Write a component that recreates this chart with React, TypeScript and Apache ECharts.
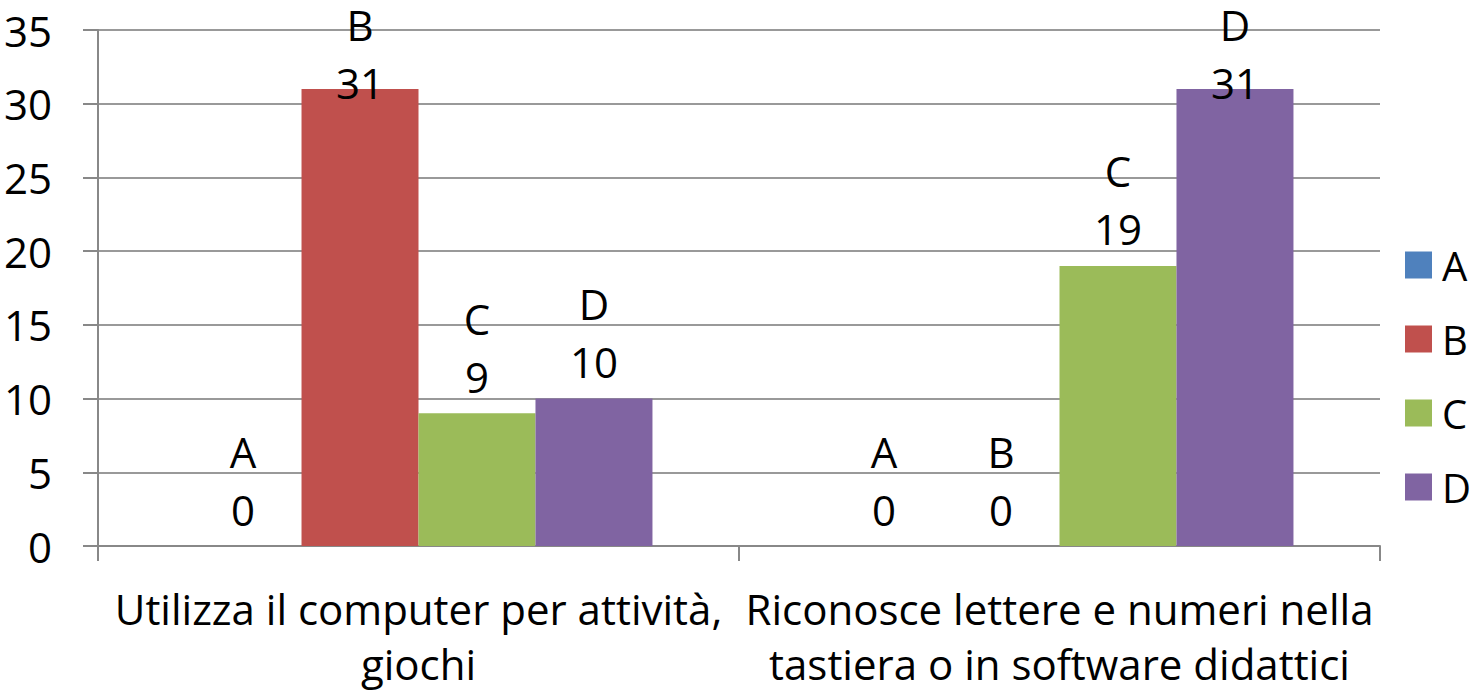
import React, { useEffect, useRef } from "react";
import * as echarts from "echarts";

const categories = [
  "Utilizza il computer per attività,\ngiochi",
  "Riconosce lettere e numeri nella\ntastiera o in software didattici",
];
const seriesNames = ["A", "B", "C", "D"];
const seriesValues = [
  [0, 0],
  [31, 0],
  [9, 19],
  [10, 31],
];
const colors = ["#4F81BD", "#C0504D", "#9BBB59", "#8064A2"];
const yTicks = { min: 0, max: 35, interval: 5 };

const FONT = "Open Sans";
const FS = 42;

export default function App() {
  const ref = useRef<HTMLDivElement>(null);
  useEffect(() => {
    if (!ref.current) return;
    const chart = echarts.init(ref.current, undefined, { renderer: "svg" });
    const series = seriesNames.map((name, i) => ({
      name,
      type: "bar",
      barGap: "0%",
      barCategoryGap: "27%",
      itemStyle: { color: colors[i] },
      data: seriesValues[i].map((v) => ({
        value: v,
        label: v > 28 ? { offset: [0, 31] } : undefined,
      })),
      label: {
        show: true,
        position: "top",
        distance: 1,
        formatter: (p: any) => `{n|${p.seriesName}}\n{v|${p.value}}`,
        rich: {
          n: { fontFamily: FONT, fontSize: FS, lineHeight: 44, color: "#000" },
          v: { fontFamily: FONT, fontSize: FS, lineHeight: 72, color: "#000" },
        },
      },
    }));
    chart.setOption({
      animation: false,
      textStyle: { fontFamily: FONT },
      grid: { left: 98, right: 92, top: 30, bottom: 144, containLabel: false },
      legend: {
        orient: "vertical",
        left: 1400,
        top: 240,
        itemWidth: 27,
        itemHeight: 27,
        itemGap: 34,
        icon: "rect",
        data: seriesNames,
        textStyle: {
          fontFamily: FONT,
          fontSize: 40,
          lineHeight: 40,
          color: "#000",
          padding: [0, 0, 0, 5],
        },
      },
      xAxis: {
        type: "category",
        data: categories,
        axisLine: { lineStyle: { color: "#888", width: 2 } },
        axisTick: { show: true, length: 15, lineStyle: { color: "#888", width: 2 } },
        axisLabel: {
          margin: 35,
          fontFamily: FONT,
          fontSize: FS,
          lineHeight: 55,
          color: "#000",
          interval: 0,
        },
      },
      yAxis: {
        type: "value",
        min: yTicks.min,
        max: yTicks.max,
        interval: yTicks.interval,
        axisLine: { show: true, lineStyle: { color: "#888", width: 2 } },
        axisTick: { show: true, length: 15, lineStyle: { color: "#888", width: 2 } },
        splitLine: { lineStyle: { color: "#999", width: 2 } },
        axisLabel: {
          margin: 46,
          fontFamily: FONT,
          fontSize: FS,
          color: "#000",
        },
      },
      series,
    });
    return () => chart.dispose();
  }, []);
  return <div ref={ref} style={{ width: 1472, height: 691, position: "absolute", left: 0, top: 0 }} />;
}
